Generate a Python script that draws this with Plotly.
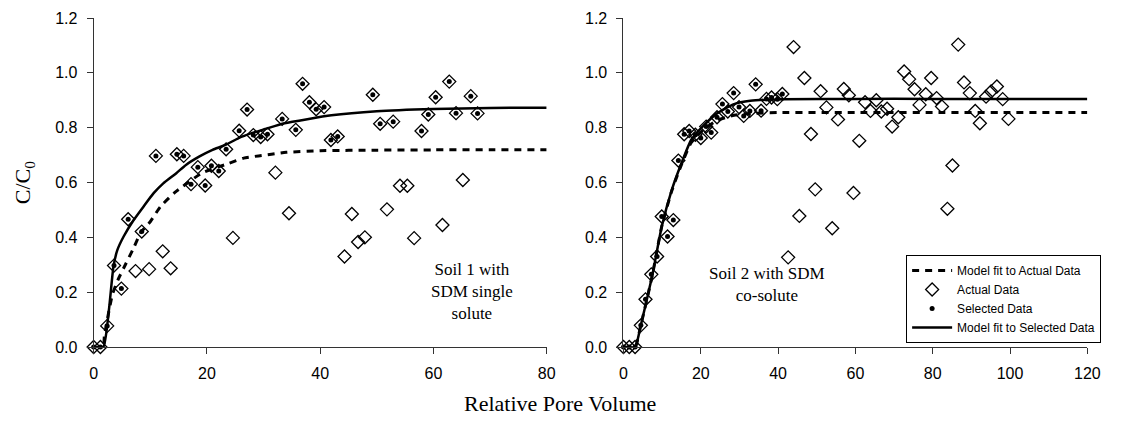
import plotly.graph_objects as go

# ---------------- Data: Soil 1 (left panel) ----------------
soil1_pv = [0, 1.2, 2.4, 3.6, 4.9, 6.1, 7.4, 8.5, 9.8, 11.0, 12.2, 13.6, 14.7, 15.9, 17.2,
            18.4, 19.7, 20.8, 22.1, 23.4, 24.6, 25.7, 27.1, 28.2, 29.5, 30.7, 32.1, 33.3,
            34.5, 35.7, 36.9, 38.1, 39.3, 40.7, 41.9, 43.1, 44.3, 45.6, 46.7, 47.9, 49.3,
            50.6, 51.8, 52.9, 54.1, 55.4, 56.6, 57.9, 59.1, 60.4, 61.6, 62.8, 64.0, 65.2,
            66.6, 67.8]
soil1_cc0 = [0, 0, 0.077, 0.297, 0.213, 0.466, 0.277, 0.421, 0.284, 0.697, 0.349, 0.287,
             0.703, 0.697, 0.594, 0.656, 0.589, 0.661, 0.642, 0.721, 0.398, 0.789, 0.866,
             0.773, 0.766, 0.776, 0.636, 0.832, 0.488, 0.792, 0.960, 0.893, 0.867, 0.875,
             0.755, 0.768, 0.330, 0.485, 0.383, 0.400, 0.920, 0.814, 0.502, 0.822, 0.588,
             0.588, 0.397, 0.788, 0.848, 0.911, 0.445, 0.968, 0.853, 0.609, 0.915, 0.852]
soil1_selected = [1, 1, 1, 1, 1, 1, 0, 1, 0, 1, 0, 0, 1, 1, 1, 1, 1, 1, 1, 1, 0, 1, 1, 1, 1,
                  1, 0, 1, 0, 1, 1, 1, 1, 1, 1, 1, 0, 0, 0, 0, 1, 1, 0, 1, 0, 0, 0, 1, 1, 1,
                  0, 1, 1, 0, 1, 1]

soil1_fit_sel_pv = [0, 1.7, 2.7, 3.5, 4.2, 5.3, 7.1, 8.8, 10.6, 12.3, 14.6, 16.3, 18.7, 21.0,
                    23.3, 25.6, 27.9, 30.3, 33.7, 42, 50, 60, 70, 80]
soil1_fit_sel_cc0 = [0, 0, 0.135, 0.293, 0.354, 0.403, 0.464, 0.512, 0.561, 0.597, 0.634,
                     0.664, 0.695, 0.719, 0.737, 0.762, 0.780, 0.795, 0.816, 0.845, 0.860,
                     0.868, 0.872, 0.873]
soil1_fit_act_pv = [0, 1.7, 1.9, 3.3, 4.3, 5.6, 6.9, 8.4, 10, 11.8, 14.3, 19.1, 23.9, 26.5,
                    29.1, 31.4, 34, 40, 50, 60, 70, 80]
soil1_fit_act_cc0 = [0, 0, 0.04, 0.19, 0.245, 0.30, 0.354, 0.42, 0.457, 0.512, 0.563, 0.634,
                     0.67, 0.689, 0.697, 0.703, 0.71, 0.716, 0.718, 0.719, 0.719, 0.719]

# ---------------- Data: Soil 2 (right panel) ----------------
soil2_pv = [0, 1.5, 3.0, 4.5, 5.7, 7.2, 8.7, 9.9, 11.4, 12.9, 14.2, 15.7, 17.0, 18.6, 20.0,
            21.4, 22.7, 24.2, 25.6, 27.0, 28.5, 29.9, 31.1, 32.7, 34.2, 35.6, 37.0, 38.3,
            39.8, 41.1, 42.6, 44.0, 45.5, 46.8, 48.5, 49.6, 51.0, 52.5, 54.0, 55.5, 57.0,
            58.3, 59.5, 61.0, 62.5, 63.9, 65.4, 66.7, 68.2, 69.5, 71.1, 72.6, 73.9, 75.3,
            76.6, 78.2, 79.6, 81.0, 82.4, 83.8, 85.1, 86.6, 88.1, 89.6, 91.0, 92.2, 93.8,
            95.1, 96.6, 98.1, 99.6]
soil2_cc0 = [0, 0, 0, 0.079, 0.174, 0.265, 0.33, 0.476, 0.403, 0.463, 0.68, 0.776, 0.788,
             0.774, 0.762, 0.804, 0.782, 0.838, 0.886, 0.859, 0.926, 0.875, 0.843, 0.861,
             0.958, 0.862, 0.905, 0.910, 0.904, 0.923, 0.327, 1.094, 0.478, 0.981, 0.777,
             0.575, 0.933, 0.874, 0.433, 0.830, 0.941, 0.918, 0.562, 0.752, 0.893, 0.861,
             0.900, 0.859, 0.869, 0.804, 0.838, 1.005, 0.977, 0.940, 0.883, 0.922, 0.981,
             0.908, 0.877, 0.504, 0.662, 1.103, 0.965, 0.926, 0.861, 0.816, 0.913, 0.932,
             0.950, 0.904, 0.832]
soil2_selected = [1] * 30 + [0] * 41

soil2_fit_sel_pv = [0, 3.0, 4.4, 7.4, 9.9, 12.5, 15, 17.5, 20.9, 24.3, 28.6, 32.8, 41.3, 60,
                    80, 100, 120]
soil2_fit_sel_cc0 = [0, 0, 0.074, 0.257, 0.439, 0.573, 0.670, 0.755, 0.810, 0.853, 0.886,
                     0.898, 0.904, 0.905, 0.905, 0.905, 0.905]
soil2_fit_act_pv = [0, 3.0, 4.4, 7.4, 9.9, 12.5, 15, 17.5, 20.9, 24.3, 28.6, 33, 40, 60, 80,
                    100, 120]
soil2_fit_act_cc0 = [0, 0, 0.074, 0.257, 0.44, 0.57, 0.665, 0.745, 0.795, 0.827, 0.845,
                     0.852, 0.855, 0.855, 0.855, 0.855, 0.855]

y_ticks = [0.0, 0.2, 0.4, 0.6, 0.8, 1.0, 1.2]

SERIF = "Times New Roman, Liberation Serif, serif"
SANS = "Arial, Liberation Sans, sans-serif"

fig = go.Figure()


def add_panel(pv, cc0, sel, fit_sel_pv, fit_sel_cc0, fit_act_pv, fit_act_cc0, xa, ya, legend):
    fig.add_trace(go.Scatter(
        x=fit_act_pv, y=fit_act_cc0, mode="lines", name="Model fit to Actual Data",
        line=dict(color="black", width=3, dash="7px,6px", shape="spline", smoothing=0.5),
        xaxis=xa, yaxis=ya, showlegend=legend, legendrank=1, cliponaxis=False))
    fig.add_trace(go.Scatter(
        x=fit_sel_pv, y=fit_sel_cc0, mode="lines", name="Model fit to Selected Data",
        line=dict(color="black", width=2.5, shape="spline", smoothing=0.5),
        xaxis=xa, yaxis=ya, showlegend=legend, legendrank=4, cliponaxis=False))
    fig.add_trace(go.Scatter(
        x=pv, y=cc0, mode="markers", name="Actual Data",
        marker=dict(symbol="diamond-open", size=10, color="black", line=dict(width=1.3)),
        xaxis=xa, yaxis=ya, showlegend=legend, legendrank=2, cliponaxis=False))
    sx = [p for p, s in zip(pv, sel) if s]
    sy = [c for c, s in zip(cc0, sel) if s]
    fig.add_trace(go.Scatter(
        x=sx, y=sy, mode="markers", name="Selected Data",
        marker=dict(symbol="circle", size=5, color="black"),
        xaxis=xa, yaxis=ya, showlegend=legend, legendrank=3, cliponaxis=False))


add_panel(soil1_pv, soil1_cc0, soil1_selected, soil1_fit_sel_pv, soil1_fit_sel_cc0,
          soil1_fit_act_pv, soil1_fit_act_cc0, "x", "y", False)
add_panel(soil2_pv, soil2_cc0, soil2_selected, soil2_fit_sel_pv, soil2_fit_sel_cc0,
          soil2_fit_act_pv, soil2_fit_act_cc0, "x2", "y2", True)

W, H = 1122, 422
TOP, BOT = 18, 347

axis_common = dict(showgrid=False, zeroline=False, showline=True, linecolor="#333",
                   linewidth=1, ticks="outside", ticklen=6, tickcolor="#333",
                   tickfont=dict(family=SANS, size=16, color="black"))

fig.update_layout(
    width=W, height=H,
    margin=dict(l=0, r=0, t=TOP, b=H - BOT),
    paper_bgcolor="white", plot_bgcolor="white",
    xaxis=dict(domain=[91 / W, 551 / W], range=[0, 80], tickvals=[0, 20, 40, 60, 80],
               ticklabelstandoff=6, anchor="y", **axis_common),
    yaxis=dict(domain=[0, 1], range=[0, 1.2], tickvals=y_ticks, tickformat=".1f",
               ticklabelstandoff=6, anchor="x", **axis_common),
    xaxis2=dict(domain=[629 / W, 1100 / W], range=[0, 120],
                tickvals=[0, 20, 40, 60, 80, 100, 120], ticklabelstandoff=6, anchor="y2",
                **axis_common),
    yaxis2=dict(domain=[0, 1], range=[0, 1.2], tickvals=y_ticks, tickformat=".1f",
                ticklabelstandoff=6, anchor="x2", **axis_common),
    legend=dict(x=1114 / W, xanchor="right", y=(BOT - 343) / (BOT - TOP), yanchor="bottom",
                bgcolor="white", bordercolor="black", borderwidth=1,
                font=dict(family=SANS, size=12, color="black"),
                tracegroupgap=0, itemwidth=40),
    showlegend=True,
)

fig.add_annotation(text="C/C<sub>0</sub>", textangle=-90, xref="paper", yref="paper",
                   x=20 / W, y=0.5, xanchor="center", yanchor="middle", showarrow=False,
                   font=dict(family=SERIF, size=22, color="black"))
fig.add_annotation(text="Relative Pore Volume", xref="paper", yref="paper",
                   x=565 / W, y=(BOT - 403) / (BOT - TOP), xanchor="center",
                   yanchor="middle", showarrow=False,
                   font=dict(family=SERIF, size=22, color="black"))
fig.add_annotation(text="Soil 1 with<br>SDM single<br>solute", xref="paper", yref="paper",
                   x=475 / W, y=(BOT - 291) / (BOT - TOP), xanchor="center",
                   yanchor="middle", showarrow=False, align="center",
                   font=dict(family=SERIF, size=17, color="black"))
fig.add_annotation(text="Soil 2 with SDM<br>co-solute", xref="paper", yref="paper",
                   x=775 / W, y=(BOT - 284) / (BOT - TOP), xanchor="center",
                   yanchor="middle", showarrow=False, align="center",
                   font=dict(family=SERIF, size=17, color="black"))

fig.write_html("out.html")
